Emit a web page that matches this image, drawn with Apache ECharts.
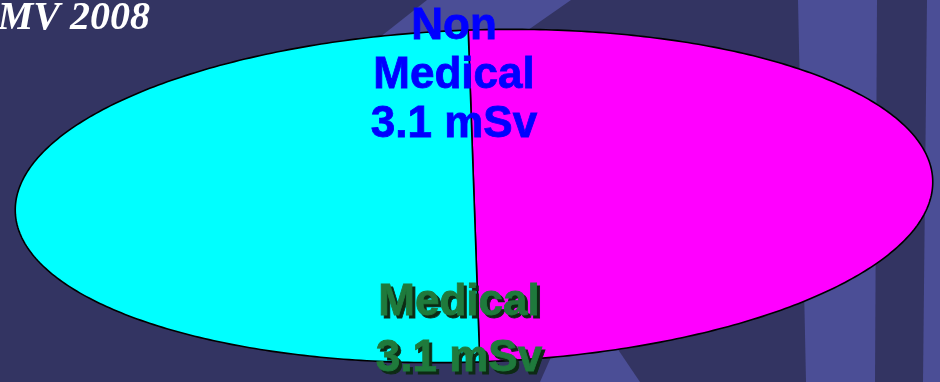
<!DOCTYPE html>
<html>
<head>
<meta charset="utf-8">
<script src="https://cdn.jsdelivr.net/npm/echarts@6/dist/echarts.min.js"></script>
<style>
html, body { margin: 0; padding: 0; background: #333462; }
#main { width: 940px; height: 382px; }
</style>
</head>
<body>
<div id="main"></div>
<script>
// data
const categories = ['Non Medical', 'Medical'];
const doses = [3.1, 3.1];
const unit = 'mSv';
const sliceColors = ['#ff00ff', '#00ffff'];
const labelColors = ['#0000ff', '#1f7a3c'];
const sourceText = 'IMV 2008';

var chart = echarts.init(document.getElementById('main'));

// the pie is seen at an angle, so it is drawn as a slightly tilted ellipse
var cx = 474, cy = 196, rx = 459, ry = 166;
var tilt = -2 * Math.PI / 180;
var total = doses.reduce((a, b) => a + b, 0);
var starts = [];
var acc = 0;
for (let i = 0; i < doses.length; i++) {
    starts.push(acc);
    acc += doses[i];
}

function ellipsePoint(t) {
    var lx = rx * Math.cos(t), ly = ry * Math.sin(t);
    return [
        cx + lx * Math.cos(tilt) - ly * Math.sin(tilt),
        cy + lx * Math.sin(tilt) + ly * Math.cos(tilt)
    ];
}

function renderSlice(params, api) {
    var i = params.dataIndex;
    var a0 = -Math.PI / 2 + starts[i] / total * 2 * Math.PI;
    var a1 = a0 + api.value(1) / total * 2 * Math.PI;
    var pts = [[cx, cy]];
    var steps = 240;
    for (let k = 0; k <= steps; k++) {
        pts.push(ellipsePoint(a0 + (a1 - a0) * k / steps));
    }
    return {
        type: 'polygon',
        shape: { points: pts },
        style: {
            fill: sliceColors[i],
            stroke: '#000',
            lineWidth: 1.6,
            lineJoin: 'round'
        }
    };
}

function labelText(i) {
    return categories[i].replace(' ', '\n') + '\n' + doses[i] + ' ' + unit;
}

var bgLight = '#4b4e96';
var labelFont = 'bold 44px "Liberation Sans", Arial, sans-serif';

chart.setOption({
    backgroundColor: '#333462',
    animation: false,
    graphic: [
        // lighter shapes of the slide background
        { type: 'polygon', z: -10, shape: { points: [[427, 0], [571, 0], [485, 60], [351, 60]] }, style: { fill: bgLight } },
        { type: 'polygon', z: -10, shape: { points: [[555, 348], [617, 348], [640, 382], [540, 382]] }, style: { fill: bgLight } },
        { type: 'polygon', z: -10, shape: { points: [[798, 0], [877, 0], [875, 382], [806, 382]] }, style: { fill: bgLight } },
        { type: 'polygon', z: -10, shape: { points: [[927, 0], [940, 0], [940, 382], [923, 382]] }, style: { fill: bgLight } },
        {
            type: 'text', z: 20, x: 150, y: 19,
            style: {
                text: sourceText,
                fill: '#ffffff',
                font: 'italic bold 40px "Liberation Serif", "DejaVu Serif", serif',
                align: 'right',
                verticalAlign: 'middle'
            }
        },
        {
            type: 'text', z: 20, x: 454, y: 2,
            style: {
                text: labelText(0),
                fill: labelColors[0],
                stroke: labelColors[0],
                lineWidth: 0.8,
                font: labelFont,
                lineHeight: 49,
                align: 'center',
                verticalAlign: 'top'
            }
        },
        // dark drop shadow under the Medical label
        {
            type: 'text', z: 19, x: 462, y: 278,
            style: {
                text: labelText(1),
                fill: '#0d2a14',
                stroke: '#0d2a14',
                lineWidth: 0.8,
                font: labelFont,
                lineHeight: 56,
                align: 'center',
                verticalAlign: 'top'
            }
        },
        {
            type: 'text', z: 20, x: 459, y: 275,
            style: {
                text: labelText(1),
                fill: labelColors[1],
                stroke: labelColors[1],
                lineWidth: 0.8,
                font: labelFont,
                lineHeight: 56,
                align: 'center',
                verticalAlign: 'top'
            }
        }
    ],
    series: [
        {
            type: 'custom',
            coordinateSystem: 'none',
            renderItem: renderSlice,
            data: doses.map((v, i) => [i, v])
        }
    ]
});
</script>
</body>
</html>
